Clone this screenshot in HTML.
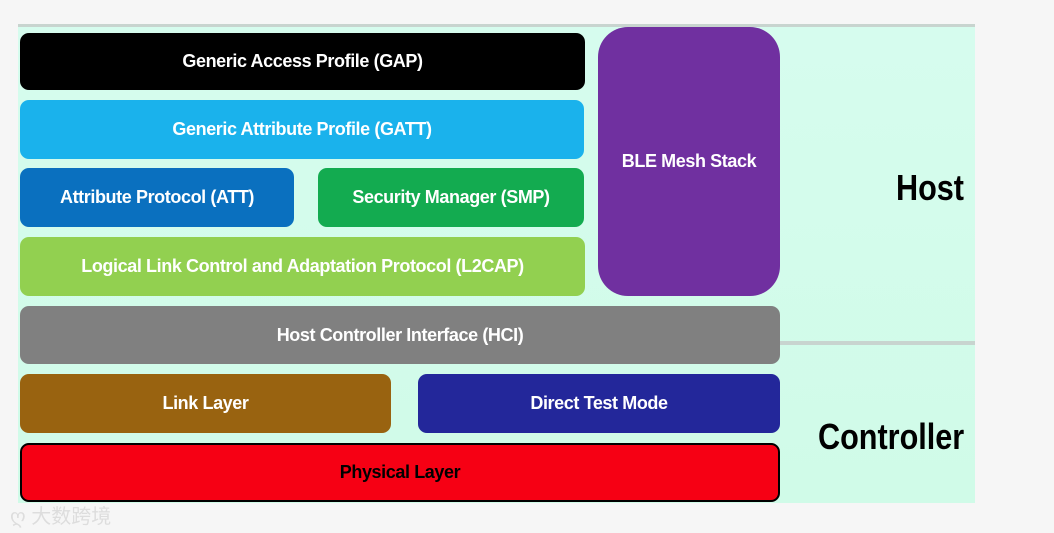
<!DOCTYPE html>
<html><head><style>
body{margin:0;width:1054px;height:533px;background:#f6f6f6;position:relative;overflow:hidden;font-family:"Liberation Sans",sans-serif}
.bg{position:absolute;left:18px;top:24px;width:957px;height:479px;background:linear-gradient(#d6fcee,#d0fbe8)}
.b{position:absolute;display:flex;align-items:center;justify-content:center;color:#fff;font-weight:bold;font-size:18px;border-radius:9px;letter-spacing:-0.4px}
.t{position:absolute;font-weight:bold;color:#000;transform:scaleX(0.85);transform-origin:left}
</style></head><body>
<div class="bg"></div>
<div style="position:absolute;left:18px;top:24px;width:957px;height:3px;background:#c8d4cf"></div>
<div style="position:absolute;left:780px;top:341px;width:195px;height:4px;background:#c8d4cf"></div>
<div class="b" style="left:20px;top:33px;width:565px;height:57px;background:#000">Generic Access Profile (GAP)</div>
<div class="b" style="left:20px;top:100px;width:564px;height:59px;background:#1ab2ec">Generic Attribute Profile (GATT)</div>
<div class="b" style="left:20px;top:168px;width:274px;height:59px;background:#0a70bf">Attribute Protocol (ATT)</div>
<div class="b" style="left:318px;top:168px;width:266px;height:59px;background:#13ab50">Security Manager (SMP)</div>
<div class="b" style="left:20px;top:237px;width:565px;height:59px;background:#92d050">Logical Link Control and Adaptation Protocol (L2CAP)</div>
<div class="b" style="left:598px;top:27px;width:182px;height:269px;background:#7030a0;border-radius:30px;align-items:flex-start"><span style="margin-top:124px">BLE Mesh Stack</span></div>
<div class="b" style="left:20px;top:306px;width:760px;height:58px;background:#808080">Host Controller Interface (HCI)</div>
<div class="b" style="left:20px;top:374px;width:371px;height:59px;background:#996310">Link Layer</div>
<div class="b" style="left:418px;top:374px;width:362px;height:59px;background:#23279a">Direct Test Mode</div>
<div class="b" style="left:20px;top:443px;width:756px;height:55px;background:#f60014;border:2px solid #000;color:#000">Physical Layer</div>
<div class="t" style="left:896px;top:167px;font-size:36px">Host</div>
<div class="t" style="left:818px;top:416px;font-size:36px">Controller</div>
<div style="position:absolute;left:10px;top:500px;color:#ddd;font-size:20px;font-family:'Liberation Sans','Noto Sans CJK SC',sans-serif">ღ 大数跨境</div>
</body></html>
